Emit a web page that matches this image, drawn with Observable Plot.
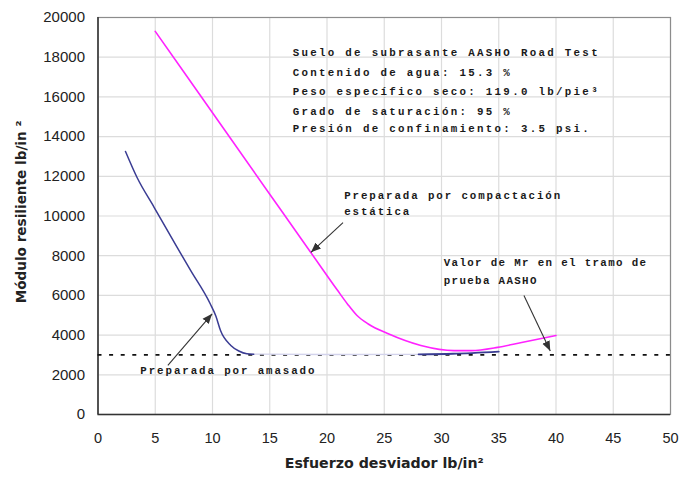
<!DOCTYPE html>
<html>
<head>
<meta charset="utf-8">
<script src="https://cdn.jsdelivr.net/npm/d3@7"></script>
<script src="https://cdn.jsdelivr.net/npm/@observablehq/plot@0.6"></script>
<style>
  body { margin: 0; background: #fff; }
  g[font-family="Liberation Mono"] text { letter-spacing: 2.3px; }
  g[font-family="Liberation Mono, monospace"] text { letter-spacing: 1.9px; }
  g[font-family="Liberation Mono, Courier, monospace"] text { letter-spacing: 1.35px; }
</style>
</head>
<body>
<div id="chart"></div>
<script>
// Static compaction curve (magenta)
const compX = [5, 10, 15, 18.6, 20.9, 21.8, 22.6, 23.6, 25.3, 28.2, 31.1, 32.6, 34.9, 37, 40];
const compY = [19300, 15200, 11100, 8150, 6270, 5560, 5000, 4560, 4080, 3480, 3220, 3220, 3380, 3630, 3980];
// Kneading curve (blue)
const kneadX = [2.4, 3.4, 4.9, 6.9, 8.1, 9.8, 10.3, 10.7, 11.6, 12.3, 13.0, 13.6];
const kneadY = [13250, 11950, 10440, 8430, 7250, 5580, 4950, 4230, 3480, 3200, 3060, 3040];
const kneadFaintX = [13.6, 20, 28];
const kneadFaintY = [3040, 3020, 3030];
const kneadTailX = [28, 31, 35];
const kneadTailY = [3030, 3060, 3170];
// AASHO road test reference value
const refY = 3000;
const xTicks = [0, 5, 10, 15, 20, 25, 30, 35, 40, 45, 50];
const yTicks = [0, 2000, 4000, 6000, 8000, 10000, 12000, 14000, 16000, 18000, 20000];

const infoLines = [
  "Suelo de subrasante AASHO Road Test",
  "Contenido de agua: 15.3 %",
  "Peso específico seco: 119.0 lb/pie³",
  "Grado de saturación: 95 %",
  "Presión de confinamiento: 3.5 psi."
];
const infoX = 17.0;
const infoY = [18220, 17230, 16270, 15260, 14400];

const notesA = [
  {text: "Preparada por compactación", x: 21.5, y: 11040},
  {text: "estática", x: 21.5, y: 10200},
  {text: "Preparada por amasado", x: 3.7, y: 2220}
];
const notesB = [
  {text: "Valor de Mr en el tramo de", x: 30.2, y: 7680},
  {text: "prueba AASHO", x: 30.2, y: 6750}
];
const arrows = [
  {x1: 21.4, y1: 9670, x2: 18.6, y2: 8170},
  {x1: 6.1, y1: 2470, x2: 9.97, y2: 5070},
  {x1: 37.2, y1: 6000, x2: 39.5, y2: 3200}
];

const comp = compX.map((x, i) => ({x, y: compY[i]}));
const knead = kneadX.map((x, i) => ({x, y: kneadY[i]}));
const kneadFaint = kneadFaintX.map((x, i) => ({x, y: kneadFaintY[i]}));
const kneadTail = kneadTailX.map((x, i) => ({x, y: kneadTailY[i]}));
const info = infoLines.map((t, i) => ({t, x: infoX, y: infoY[i]}));

const filledArrow = (color, context) => {
  const doc = (context && context.document) || document;
  const m = doc.createElementNS("http://www.w3.org/2000/svg", "marker");
  m.setAttribute("viewBox", "-10 -5 10 10");
  m.setAttribute("markerWidth", 10);
  m.setAttribute("markerHeight", 10);
  m.setAttribute("refX", 0);
  m.setAttribute("refY", 0);
  m.setAttribute("orient", "auto");
  m.setAttribute("markerUnits", "userSpaceOnUse");
  const p = doc.createElementNS("http://www.w3.org/2000/svg", "path");
  p.setAttribute("d", "M-10,-4L0,0L-10,4Z");
  p.setAttribute("fill", color);
  p.setAttribute("stroke", "none");
  m.appendChild(p);
  return m;
};

const chart = Plot.plot({
  width: 681,
  height: 481,
  marginLeft: 97.5,
  marginRight: 11,
  marginTop: 17,
  marginBottom: 67,
  style: {fontFamily: "Liberation Sans, Arial, sans-serif", background: "#fff", color: "#222"},
  x: {domain: [0, 50], ticks: xTicks, label: null, tickSize: 0, tickPadding: 18},
  y: {domain: [0, 20000], ticks: yTicks, label: null, tickSize: 0, tickPadding: 13, tickFormat: d => String(d)},
  marks: [
    Plot.gridX(xTicks, {stroke: "#dcdcdc", strokeOpacity: 1, strokeWidth: 1.2}),
    Plot.gridY(yTicks, {stroke: "#dcdcdc", strokeOpacity: 1, strokeWidth: 1.2}),
    Plot.frame({stroke: "#8c8c8c", strokeWidth: 1.2}),
    Plot.axisX({ticks: xTicks, tickSize: 0, tickPadding: 18, fontSize: 14.5, label: null}),
    Plot.axisY({ticks: yTicks, tickSize: 0, tickPadding: 13, fontSize: 15, label: null, tickFormat: d => String(d)}),
    Plot.ruleY([0], {stroke: "#333", strokeWidth: 1.5}),
    Plot.ruleX([0], {stroke: "#333", strokeWidth: 1.5}),
    Plot.ruleY([refY], {stroke: "#111", strokeWidth: 1.8, strokeDasharray: "4,7.6"}),
    Plot.line(kneadFaint, {x: "x", y: "y", stroke: "#d3d3ec", strokeWidth: 1.4}),
    Plot.line(kneadTail, {x: "x", y: "y", stroke: "#3a3c93", strokeWidth: 1.8, curve: "monotone-x"}),
    Plot.line(knead, {x: "x", y: "y", stroke: "#3a3c93", strokeWidth: 1.5, curve: "monotone-x"}),
    Plot.line(comp, {x: "x", y: "y", stroke: "#ff22ff", strokeWidth: 1.6, curve: "monotone-x"}),
    Plot.link(arrows, {x1: "x1", y1: "y1", x2: "x2", y2: "y2", stroke: "#333", strokeWidth: 1.1, markerEnd: filledArrow}),
    Plot.text(info, {x: "x", y: "y", text: "t", textAnchor: "start", fontFamily: "Liberation Mono", fontSize: 10.8, fontWeight: "bold", fill: "#1a1a1a"}),
    Plot.text(notesA, {x: "x", y: "y", text: "text", textAnchor: "start", fontFamily: "Liberation Mono, monospace", fontSize: 10.8, fontWeight: "bold", fill: "#1a1a1a"}),
    Plot.text(notesB, {x: "x", y: "y", text: "text", textAnchor: "start", fontFamily: "Liberation Mono, Courier, monospace", fontSize: 10.8, fontWeight: "bold", fill: "#1a1a1a"}),
    Plot.text(["Módulo resiliente lb/in ²"], {frameAnchor: "left", textAnchor: "middle", dx: -76, dy: -4, rotate: -90, fontFamily: "DejaVu Sans", fontSize: 13.6, fontWeight: "bold", fill: "#222"}),
    Plot.text(["Esfuerzo desviador lb/in²"], {frameAnchor: "bottom", textAnchor: "middle", dy: 53, fontFamily: "DejaVu Sans", fontSize: 14.2, fontWeight: "bold", fill: "#222"})
  ]
});
document.getElementById("chart").appendChild(chart);
</script>
</body>
</html>
